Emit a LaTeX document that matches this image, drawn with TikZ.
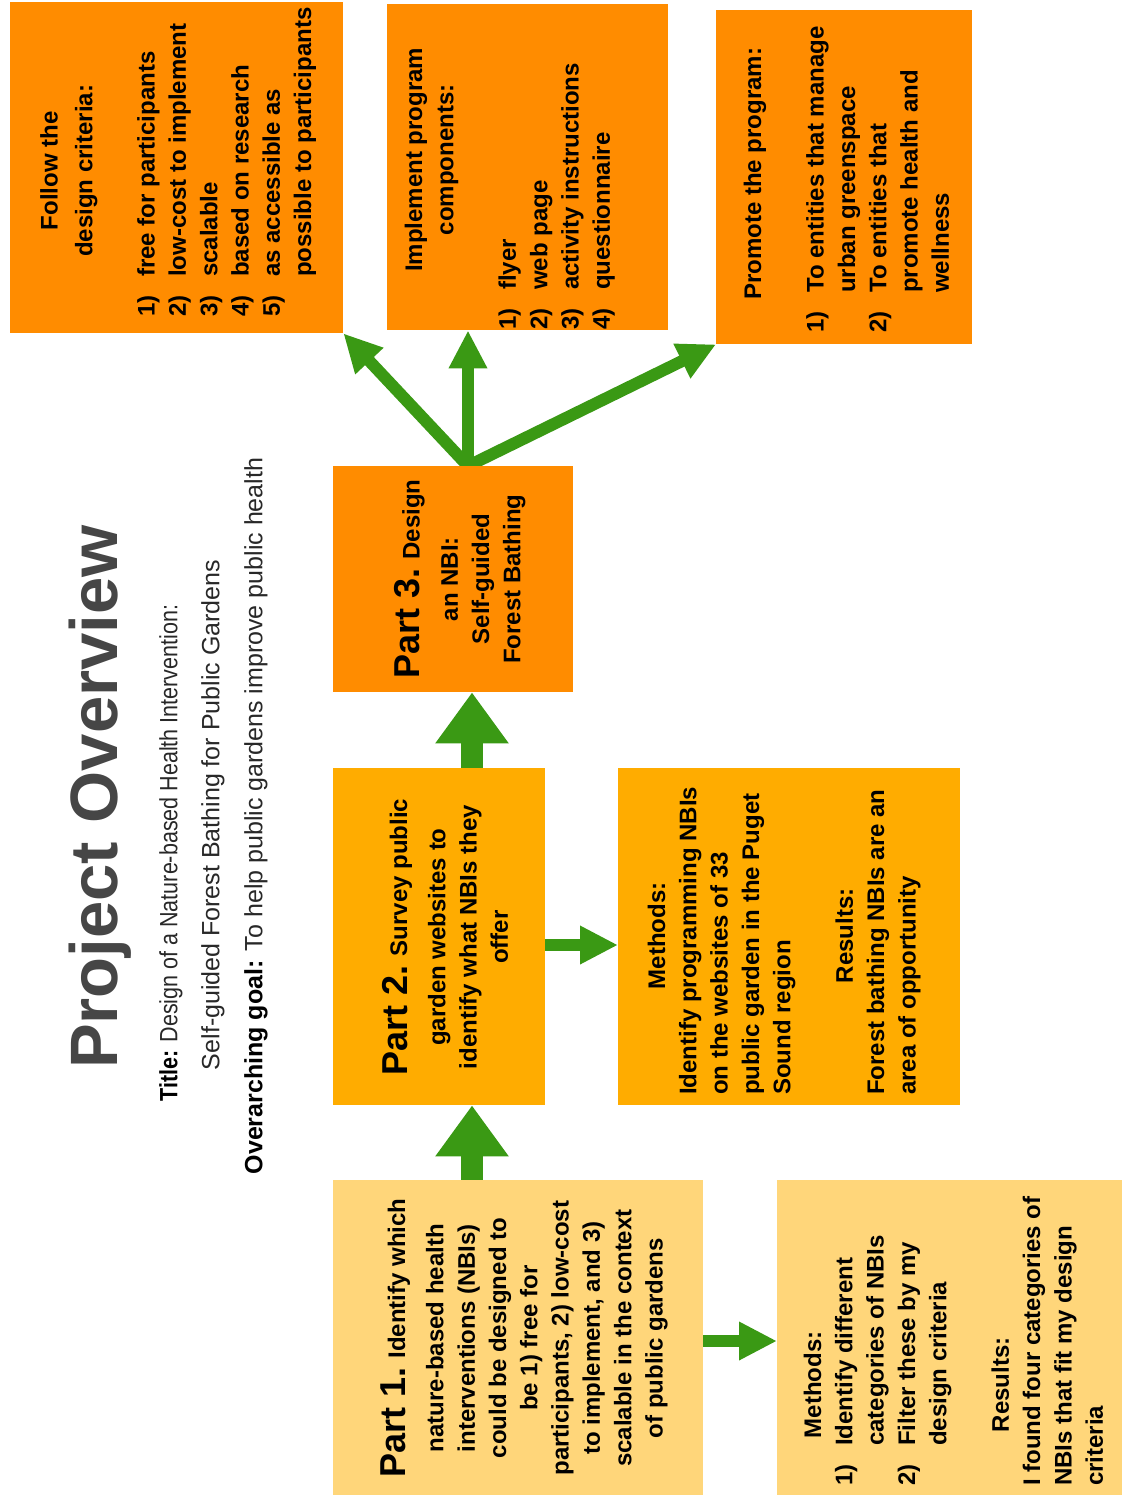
\documentclass[tikz,border=0pt]{standalone}
\usepackage{fontspec}
\usepackage{graphicx}
\setmainfont{Liberation Sans}
\usetikzlibrary{arrows.meta,backgrounds}
\definecolor{corange}{RGB}{255,140,0}
\definecolor{cmid}{RGB}{255,172,0}
\definecolor{clight}{RGB}{255,214,122}
\definecolor{cgreen}{RGB}{58,153,20}
\definecolor{ctitle}{RGB}{70,70,70}
\definecolor{ctext}{RGB}{40,40,40}
\newcommand{\itm}[2]{\makebox[40pt][l]{#1}#2}
\newcommand{\cnt}[1]{\hspace*{40pt}#1}
\newcommand{\hd}[2]{\makebox[#1][c]{#2}}
\newcommand{\bigpart}[1]{{\fontsize{36}{36}\selectfont #1}}
\begin{document}
\begin{tikzpicture}[x=1pt,y=-1pt,
  box/.style={rectangle, draw=none, inner sep=0pt, anchor=north west},
  txt/.style={rotate=90, inner sep=0pt, font=\bfseries\fontsize{24}{31.3}\selectfont, align=left, anchor=north west},
  ctxt/.style={rotate=90, inner sep=0pt, font=\bfseries\fontsize{24}{31.3}\selectfont, align=center},
  bigarrow/.style={draw=cgreen, line width=22pt, -{Triangle[width=70pt,length=51pt]}},
  smallarrow/.style={draw=cgreen, line width=12pt, -{Triangle[width=36pt,length=38pt]}}
]
\useasboundingbox (0,0) rectangle (1124,1498);

% boxes
\node[box, fill=corange, minimum width=333pt, minimum height=331pt] (c1) at (10,2) {};
\node[box, fill=corange, minimum width=281pt, minimum height=326pt] (c2) at (387,4) {};
\node[box, fill=corange, minimum width=256pt, minimum height=334pt] (c3) at (716,10) {};
\node[box, fill=corange, minimum width=240pt, minimum height=226pt] (p3) at (333,466) {};
\node[box, fill=cmid, minimum width=212pt, minimum height=337pt] (p2) at (333,768) {};
\node[box, fill=cmid, minimum width=342pt, minimum height=337pt] (m2) at (618,768) {};
\node[box, fill=clight, minimum width=370pt, minimum height=315pt] (p1) at (333,1180) {};
\node[box, fill=clight, minimum width=345pt, minimum height=315pt] (m1) at (777,1180) {};

% title block
\node[rotate=90, inner sep=0pt, font=\bfseries\fontsize{67}{67}\selectfont, text=ctitle] (title) at (100,797) {Project Overview};
\node[rotate=90, inner sep=0pt, font=\fontsize{25}{30}\selectfont, text=ctext] (tline) at (171,853)
  {\scalebox{0.86}[1]{\textcolor{black}{\textbf{Title:}} Design of a Nature-based Health Intervention:}};
\node[rotate=90, inner sep=0pt, font=\fontsize{25}{30}\selectfont, text=ctext] (sline) at (213,815)
  {Self-guided Forest Bathing for Public Gardens};
\node[rotate=90, inner sep=0pt, font=\fontsize{25}{30}\selectfont, text=ctext] (gline) at (256,816)
  {\textcolor{black}{\textbf{Overarching goal:}} To help public gardens improve public health};

% texts in boxes
\node[txt] (c1t) at (40,317) {\hd{292pt}{Follow the}\\[3.5pt]
  \hd{292pt}{design criteria:}\\[31pt]
  \itm{1)}{free for participants}\\
  \itm{2)}{low-cost to implement}\\
  \itm{3)}{scalable}\\
  \itm{4)}{based on research}\\
  \itm{5)}{as accessible as}\\
  \cnt{possible to participants}};

\node[txt] (c2t) at (404.5,330) {\hd{340pt}{Implement program}\\
  \hd{340pt}{components:}\\[31.3pt]
  \itm{1)}{flyer}\\
  \itm{2)}{web page}\\
  \itm{3)}{activity instructions}\\
  \itm{4)}{questionnaire}};

\node[txt] (c3t) at (743.5,333) {\hd{318pt}{Promote the program:}\\[31.3pt]
  \itm{1)}{To entities that manage}\\
  \cnt{urban greenspace}\\
  \itm{2)}{To entities that}\\
  \cnt{promote health and}\\
  \cnt{wellness}};

\node[ctxt] (p3t) at (460,579) {\bigpart{Part 3.} Design\\[7pt]
  an NBI:\\ Self-guided\\ Forest Bathing};

\node[ctxt] (p2t) at (445,937) {\bigpart{Part 2.} Survey public\\[7pt]
  garden websites to\\ identify what NBIs they\\ offer};

\node[txt] (m2t) at (647.5,1095) {\hd{318pt}{Methods:}\\
  Identify programming NBIs\\
  on the websites of 33\\
  public garden in the Puget\\
  Sound region\\[31.3pt]
  \hd{318pt}{Results:}\\
  Forest bathing NBIs are an\\
  area of opportunity};

\node[ctxt] (p1t) at (524,1338) {\bigpart{Part 1.} Identify which\\[7pt]
  nature-based health\\
  interventions (NBIs)\\
  could be designed to\\
  be 1) free for\\
  participants, 2) low-cost\\
  to implement, and 3)\\
  scalable in the context\\
  of public gardens};

\node[txt] (m1t) at (803.5,1486) {\hd{202pt}{Methods:}\\
  \itm{1)}{Identify different}\\
  \cnt{categories of NBIs}\\
  \itm{2)}{Filter these by my}\\
  \cnt{design criteria}\\[31.3pt]
  \hd{202pt}{Results:}\\
  I found four categories of\\
  NBIs that fit my design\\
  criteria};

% connectors
\coordinate (ax) at (472,0);
\coordinate (ay2) at (0,945);
\coordinate (ay1) at (0,1341);
\coordinate (fan) at (468,466);
\begin{scope}[on background layer]
\fill[white] (0,0) rectangle (1124,1498);
\draw[bigarrow] (p1.north -| ax) -- (p2.south -| ax);
\draw[bigarrow] (p2.north -| ax) -- (p3.south -| ax);
\draw[smallarrow] (ay2 -| p2.east) -- (ay2 -| m2.west);
\draw[smallarrow] (ay1 -| p1.east) -- (ay1 -| m1.west);
\draw[smallarrow, line cap=round] (fan) -- (c1.south east);
\draw[smallarrow, line cap=round] (fan) -- (fan |- c2.south);
\draw[smallarrow, line cap=round] (fan) -- (c3.south west);
\end{scope}
\end{tikzpicture}
\end{document}
